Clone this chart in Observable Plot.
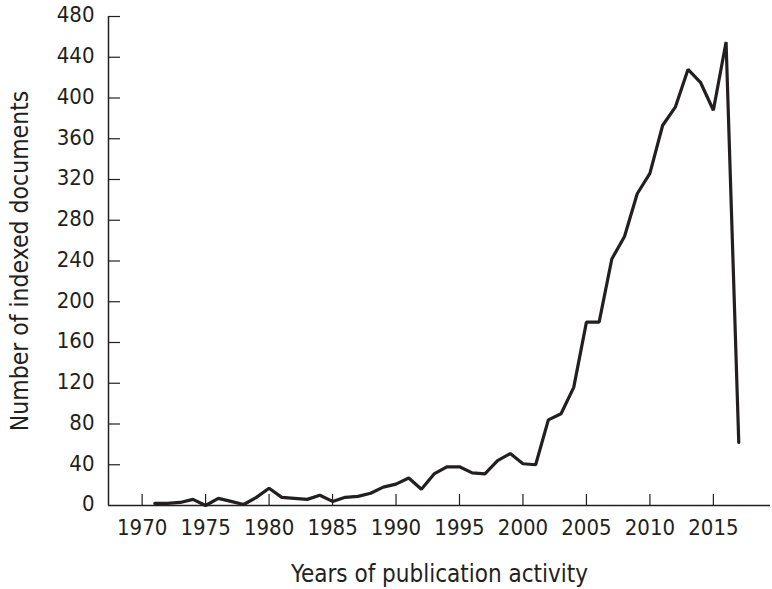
<!DOCTYPE html>
<html>
<head>
<meta charset="utf-8">
<script src="https://cdn.jsdelivr.net/npm/d3@7"></script>
<script src="https://cdn.jsdelivr.net/npm/@observablehq/plot@0.6"></script>
<style>
  html, body { margin: 0; padding: 0; background: #fff; }
  #chart svg { display: block; }
</style>
</head>
<body>
<div id="chart"></div>
<script>
const years = [1971,1972,1973,1974,1975,1976,1977,1978,1979,1980,
               1981,1982,1983,1984,1985,1986,1987,1988,1989,1990,
               1991,1992,1993,1994,1995,1996,1997,1998,1999,2000,
               2001,2002,2003,2004,2005,2006,2007,2008,2009,2010,
               2011,2012,2013,2014,2015,2016,2017];
const documents = [2,2,3,6,0,7,4,1,8,17,
                   8,7,6,10,4,8,9,12,18,21,
                   27,16,31,38,38,32,31,44,51,41,
                   40,84,90,116,180,180,242,264,306,326,
                   373,391,428,415,388,455,62];
const xTicks = [1970,1975,1980,1985,1990,1995,2000,2005,2010,2015];
const yTicks = [0,40,80,120,160,200,240,280,320,360,400,440,480];
const xLabel = "Years of publication activity";
const yLabel = "Number of indexed documents";

const data = years.map((y, i) => ({year: y, count: documents[i]}));
const ink = "#231f20";
const W = 772, H = 589, mL = 108, mR = 2, mT = 16, mB = 84;
const FONT = "'DejaVu Sans Condensed', 'Liberation Sans Narrow', sans-serif";

const chart = Plot.plot({
  width: W,
  height: H,
  marginLeft: mL,
  marginRight: mR,
  marginTop: mT,
  marginBottom: mB,
  style: {fontFamily: FONT, color: ink, background: "#fff"},
  x: {domain: [1967.35, 2019.5], axis: null},
  y: {domain: [0, 480]},
  marks: [
    // y axis title (ticks drawn separately)
    Plot.axisY(yTicks, {tickSize: 0, tickFormat: () => "", fontSize: 24.5,
      label: yLabel, labelAnchor: "center", labelArrow: "none", labelOffset: 98}),
    // tick labels
    Plot.text(xTicks, {x: d => d, text: d => String(d), frameAnchor: "bottom", lineAnchor: "top",
      dy: 14, fontSize: 22, fill: ink}),
    Plot.text(yTicks, {y: d => d, text: d => String(d), frameAnchor: "left", textAnchor: "end",
      lineAnchor: "middle", dx: -14, dy: -1.2, fontSize: 22, fill: ink}),
    // x axis title
    Plot.text([xLabel], {text: d => d, frameAnchor: "bottom", lineAnchor: "middle", dy: 69,
      fontSize: 24, fill: ink}),
    // inward ticks
    Plot.tickX(xTicks, {x: d => d, stroke: ink, strokeWidth: 1.2, insetTop: H - mT - mB - 11}),
    Plot.tickY(yTicks.filter(d => d > 0), {y: d => d, stroke: ink, strokeWidth: 1.2, insetRight: W - mL - mR - 12}),
    // axis lines
    Plot.ruleY([0], {stroke: ink, strokeWidth: 1.5}),
    Plot.ruleX([1967.35], {stroke: ink, strokeWidth: 1.5}),
    // data
    Plot.lineY(data, {x: "year", y: "count", stroke: ink, strokeWidth: 3.2, strokeLinejoin: "miter"})
  ]
});
chart.querySelectorAll("g[aria-label='y-axis label'], g[aria-label='y-axis label'] text").forEach(el => {
  el.setAttribute("font-size", 24.5);
  el.style.fontSize = "24.5px";
});
document.getElementById("chart").appendChild(chart);
</script>
</body>
</html>
